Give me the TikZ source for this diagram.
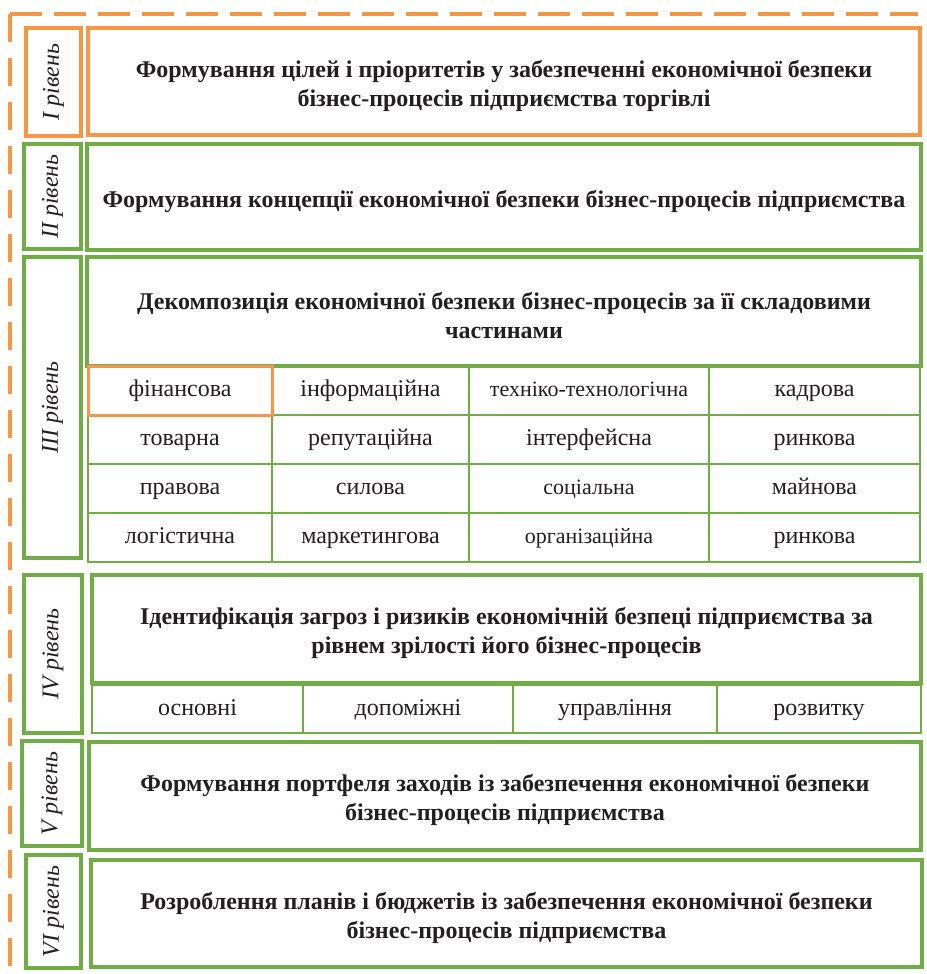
\documentclass[tikz,border=0pt]{standalone}
\usepackage{fontspec}
\setmainfont{Liberation Serif}
\definecolor{orng}{HTML}{F79646}
\definecolor{grn}{HTML}{70AD47}
\definecolor{txt}{HTML}{231F20}

\begin{document}
\begin{tikzpicture}[x=0.5pt,y=-0.5pt,
    lvlbox/.style={draw=grn, line width=2pt, inner sep=0pt, rotate=90,
        text=txt, font=\itshape\fontsize{12}{14}\selectfont},
    headbox/.style={draw=grn, line width=2pt, inner sep=0pt, align=center,
        text=txt, font=\bfseries\fontsize{12}{14.5}\selectfont},
    cellbox/.style={draw=grn, line width=1pt, inner sep=0pt,
        text height=8.5pt, text depth=2.5pt,
        text=txt, font=\fontsize{12}{14}\selectfont}]
    \useasboundingbox (0,0) rectangle (926,974);
    % dashed frame, top and left only
    \coordinate (corner) at (10,14);
    \coordinate (frameR) at (918,14);
    \coordinate (frameB) at (10,970);
    \draw[orng, line width=2pt, dash pattern=on 16pt off 6pt] (corner) -- (frameR);
    \draw[orng, line width=2pt, dash pattern=on 14pt off 8pt] (corner) -- (frameB);
    % level I
    \node[lvlbox, draw=orng, minimum width=54pt, minimum height=27.5pt] (lvlI) at (53.5,82) {I рівень};
    \node[headbox, draw=orng, minimum width=416pt, minimum height=53.5pt] (headI) at (504,81.5)
        {\rule{0pt}{13pt}Формування цілей і пріоритетів у забезпеченні економічної безпеки\\бізнес-процесів підприємства торгівлі};
    % level II
    \node[headbox, minimum width=417pt, minimum height=53pt] (headII) at (504,197)
        {\rule{0pt}{13pt}Формування концепції економічної безпеки бізнес-процесів підприємства};
    \node[lvlbox, minimum width=52.5pt, minimum height=28.5pt] (lvlII) at (52.5,196.5) {II рівень};
    % level III
    \node[lvlbox, minimum width=150.5pt, minimum height=28.5pt] (lvlIII) at (52.5,407.5) {III рівень};
    \node[headbox, minimum width=417pt, minimum height=54.5pt] (headIII) at (504,311.5)
        {\rule{0pt}{13pt}Декомпозиція економічної безпеки бізнес-процесів за її складовими\\частинами};
    \node[cellbox, minimum width=98.5pt, minimum height=24.5pt] (inform) at (370.5,390.5) {інформаційна};
    \node[cellbox, minimum width=120pt, minimum height=24.5pt, font=\fontsize{11}{13}\selectfont] (tekhno) at (589,390.5) {техніко-технологічна};
    \node[cellbox, minimum width=105.5pt, minimum height=24.5pt] (kadr) at (814.5,390.5) {кадрова};
    \node[cellbox, minimum width=92pt, minimum height=24.5pt] (tovar) at (180,439.5) {товарна};
    \node[cellbox, minimum width=98.5pt, minimum height=24.5pt] (reput) at (370.5,439.5) {репутаційна};
    \node[cellbox, minimum width=120pt, minimum height=24.5pt] (interf) at (589,439.5) {інтерфейсна};
    \node[cellbox, minimum width=105.5pt, minimum height=24.5pt] (rynokA) at (814.5,439.5) {ринкова};
    \node[cellbox, minimum width=92pt, minimum height=24.5pt] (pravo) at (180,488.5) {правова};
    \node[cellbox, minimum width=98.5pt, minimum height=24.5pt] (sylova) at (370.5,488.5) {силова};
    \node[cellbox, minimum width=120pt, minimum height=24.5pt, font=\fontsize{11}{13}\selectfont] (social) at (589,488.5) {соціальна};
    \node[cellbox, minimum width=105.5pt, minimum height=24.5pt] (mayno) at (814.5,488.5) {майнова};
    \node[cellbox, minimum width=92pt, minimum height=24.5pt] (logist) at (180,537.5) {логістична};
    \node[cellbox, minimum width=98.5pt, minimum height=24.5pt] (market) at (370.5,537.5) {маркетингова};
    \node[cellbox, minimum width=120pt, minimum height=24.5pt, font=\fontsize{11}{13}\selectfont] (orgn) at (589,537.5) {організаційна};
    \node[cellbox, minimum width=105.5pt, minimum height=24.5pt] (rynokB) at (814.5,537.5) {ринкова};
    \node[cellbox, draw=orng, line width=1.5pt, minimum width=92pt, minimum height=24.5pt] (finans) at (180,390.5) {фінансова};
    % level IV
    \node[lvlbox, minimum width=79pt, minimum height=29pt] (lvlIV) at (53,654) {IV рівень};
    \node[headbox, minimum width=414.5pt, minimum height=54pt] (headIV) at (506.5,629)
        {\rule{0pt}{13pt}Ідентифікація загроз і ризиків економічній безпеці підприємства за\\рівнем зрілості його бізнес-процесів};
    \node[cellbox, minimum width=105.5pt, minimum height=24pt] (osnov) at (197.5,709) {основні};
    \node[cellbox, minimum width=105pt, minimum height=24pt] (dopom) at (408,709) {допоміжні};
    \node[cellbox, minimum width=102pt, minimum height=24pt] (uprav) at (615,709) {управління};
    \node[cellbox, minimum width=102pt, minimum height=24pt] (rozvyt) at (819,709) {розвитку};
    % level V
    \node[lvlbox, minimum width=52.5pt, minimum height=30pt] (lvlV) at (52,793.5) {V рівень};
    \node[headbox, minimum width=416pt, minimum height=54pt] (headV) at (505,796)
        {\rule{0pt}{13pt}Формування портфеля заходів із забезпечення економічної безпеки\\бізнес-процесів підприємства};
    % level VI
    \node[lvlbox, minimum width=56.5pt, minimum height=27.5pt] (lvlVI) at (53.5,911.5) {VI рівень};
    \node[headbox, minimum width=415.5pt, minimum height=53.5pt] (headVI) at (506.5,913.5)
        {\rule{0pt}{13pt}Розроблення планів і бюджетів із забезпечення економічної безпеки\\бізнес-процесів підприємства};
\end{tikzpicture}
\end{document}
